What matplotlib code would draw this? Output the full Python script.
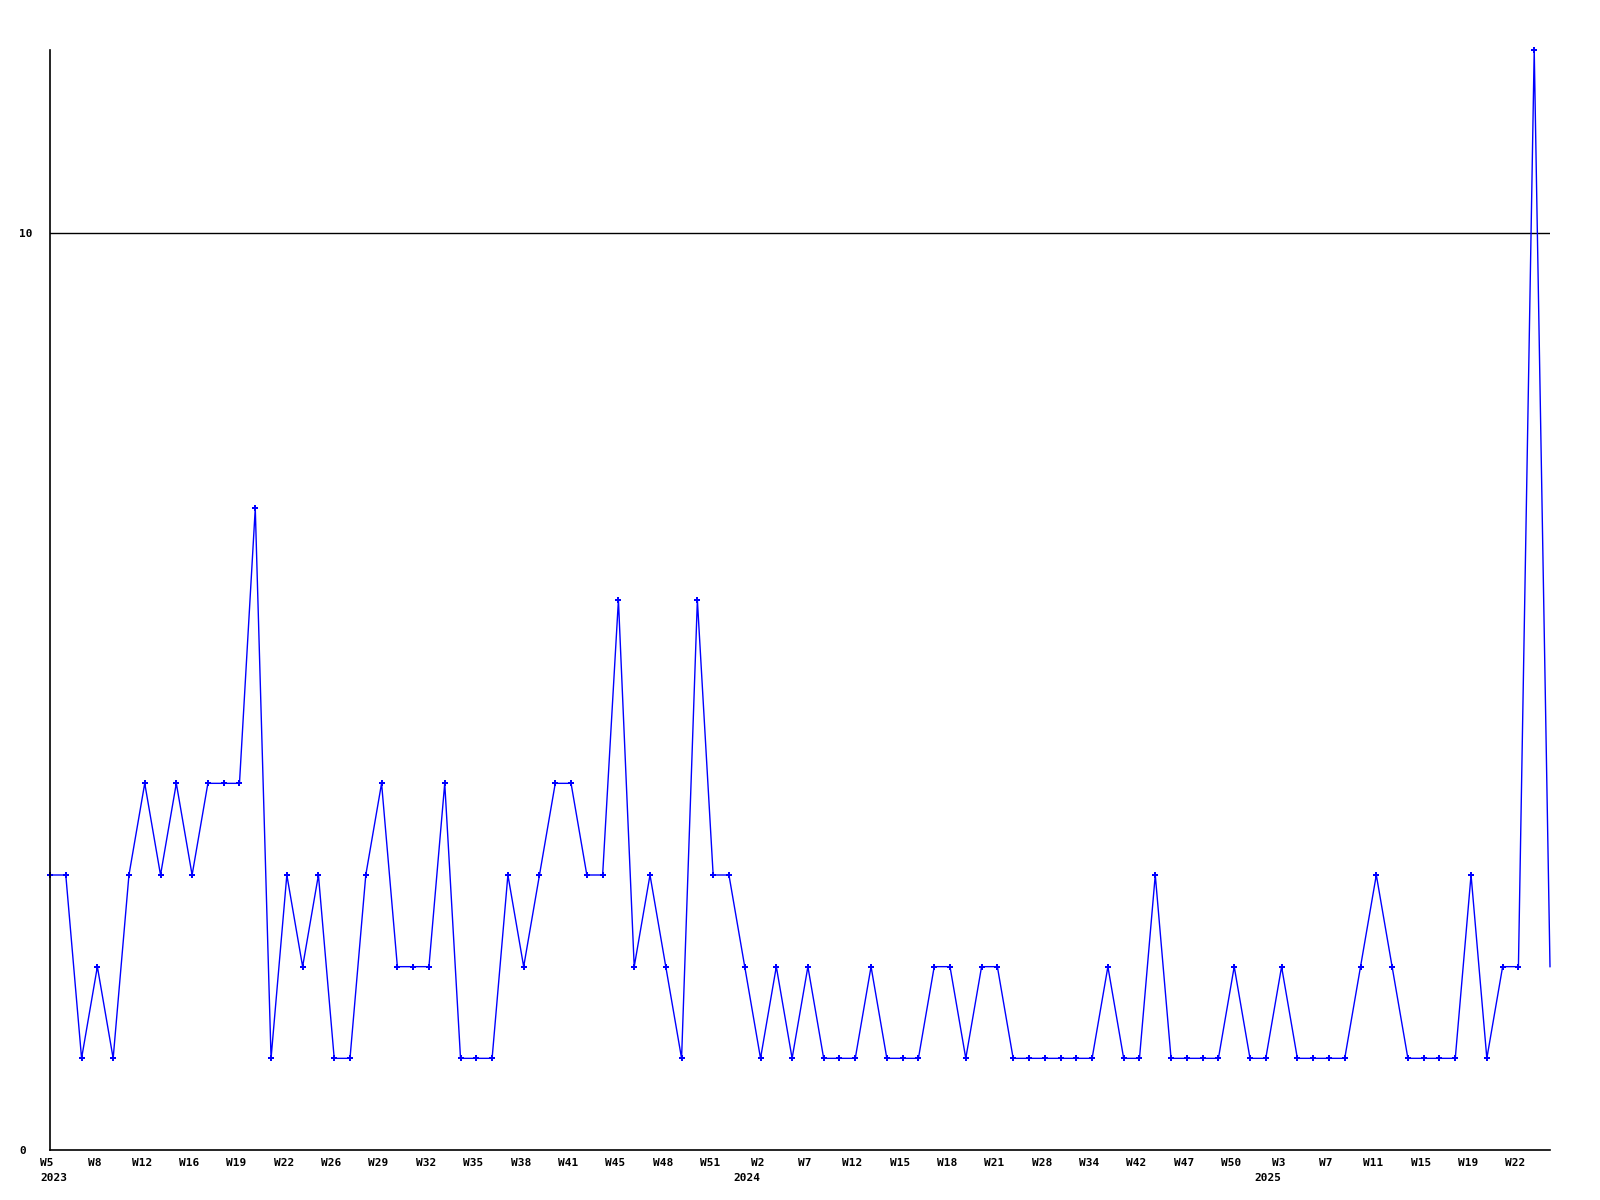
import matplotlib
matplotlib.use("Agg")
import matplotlib.pyplot as plt
import matplotlib.transforms as mtransforms

values = [3, 3, 1, 2, 1, 3, 4, 3, 4, 3, 4, 4, 4, 7, 1, 3, 2, 3, 1, 1,
          3, 4, 2, 2, 2, 4, 1, 1, 1, 3, 2, 3, 4, 4, 3, 3, 6, 2, 3, 2,
          1, 6, 3, 3, 2, 1, 2, 1, 2, 1, 1, 1, 2, 1, 1, 1, 2, 2, 1, 2,
          2, 1, 1, 1, 1, 1, 1, 2, 1, 1, 3, 1, 1, 1, 1, 2, 1, 1, 2, 1,
          1, 1, 1, 2, 3, 2, 1, 1, 1, 1, 3, 1, 2, 2, 12, 2]

week_tick_idx = list(range(0, 96, 3))
week_labels = ["W5", "W8", "W12", "W16", "W19", "W22", "W26", "W29", "W32", "W35",
               "W38", "W41", "W45", "W48", "W51", "W2", "W7", "W12", "W15", "W18",
               "W21", "W28", "W34", "W42", "W47", "W50", "W3", "W7", "W11", "W15",
               "W19", "W22"]
year_idx = [0, 45, 78]
year_labels = ["2023", "2024", "2025"]
ref_level = 10
y_max = 12

font = dict(family="DejaVu Sans Mono", weight="bold", size=8)

fig = plt.figure(figsize=(16, 12), dpi=100)
ax = fig.add_axes([50/1600, 50/1200, 1500/1600, 1100/1200])

x = list(range(len(values)))
ax.plot(x, values, color="#0000ff", lw=1.0, marker="P", markersize=4.5,
        markeredgewidth=0, markevery=slice(0, len(values) - 1), clip_on=False)
ax.axhline(ref_level, color="black", lw=1.0, zorder=1)

ax.set_xlim(0, len(values) - 1)
ax.set_ylim(0, y_max)

for s in ["top", "right"]:
    ax.spines[s].set_visible(False)
for s in ["left", "bottom"]:
    ax.spines[s].set_linewidth(1.2)
    ax.spines[s].set_color("black")

ax.set_yticks([0, ref_level])
ax.set_yticklabels(["0", "10"], **font)
ax.tick_params(axis="y", length=0, pad=31*0.72)
for lbl in ax.get_yticklabels():
    lbl.set_horizontalalignment("left")

ax.set_xticks(week_tick_idx)
ax.set_xticklabels(week_labels, **font)
ax.tick_params(axis="x", length=0, pad=6)
off = mtransforms.ScaledTranslation(-3/100, 0, fig.dpi_scale_trans)
for lbl in ax.get_xticklabels():
    lbl.set_transform(lbl.get_transform() + off)

trans = mtransforms.blended_transform_factory(ax.transData, ax.transAxes)
for i, (xi, yl) in enumerate(zip(year_idx, year_labels)):
    if i == 0:
        t = trans + mtransforms.ScaledTranslation(-10/100, -23/100, fig.dpi_scale_trans)
        ax.text(xi, 0, yl, transform=t, ha="left", va="top", **font)
    else:
        t = trans + mtransforms.ScaledTranslation(-14/100, -23/100, fig.dpi_scale_trans)
        ax.text(xi, 0, yl, transform=t, ha="center", va="top", **font)

fig.savefig("out.png", dpi=100)
